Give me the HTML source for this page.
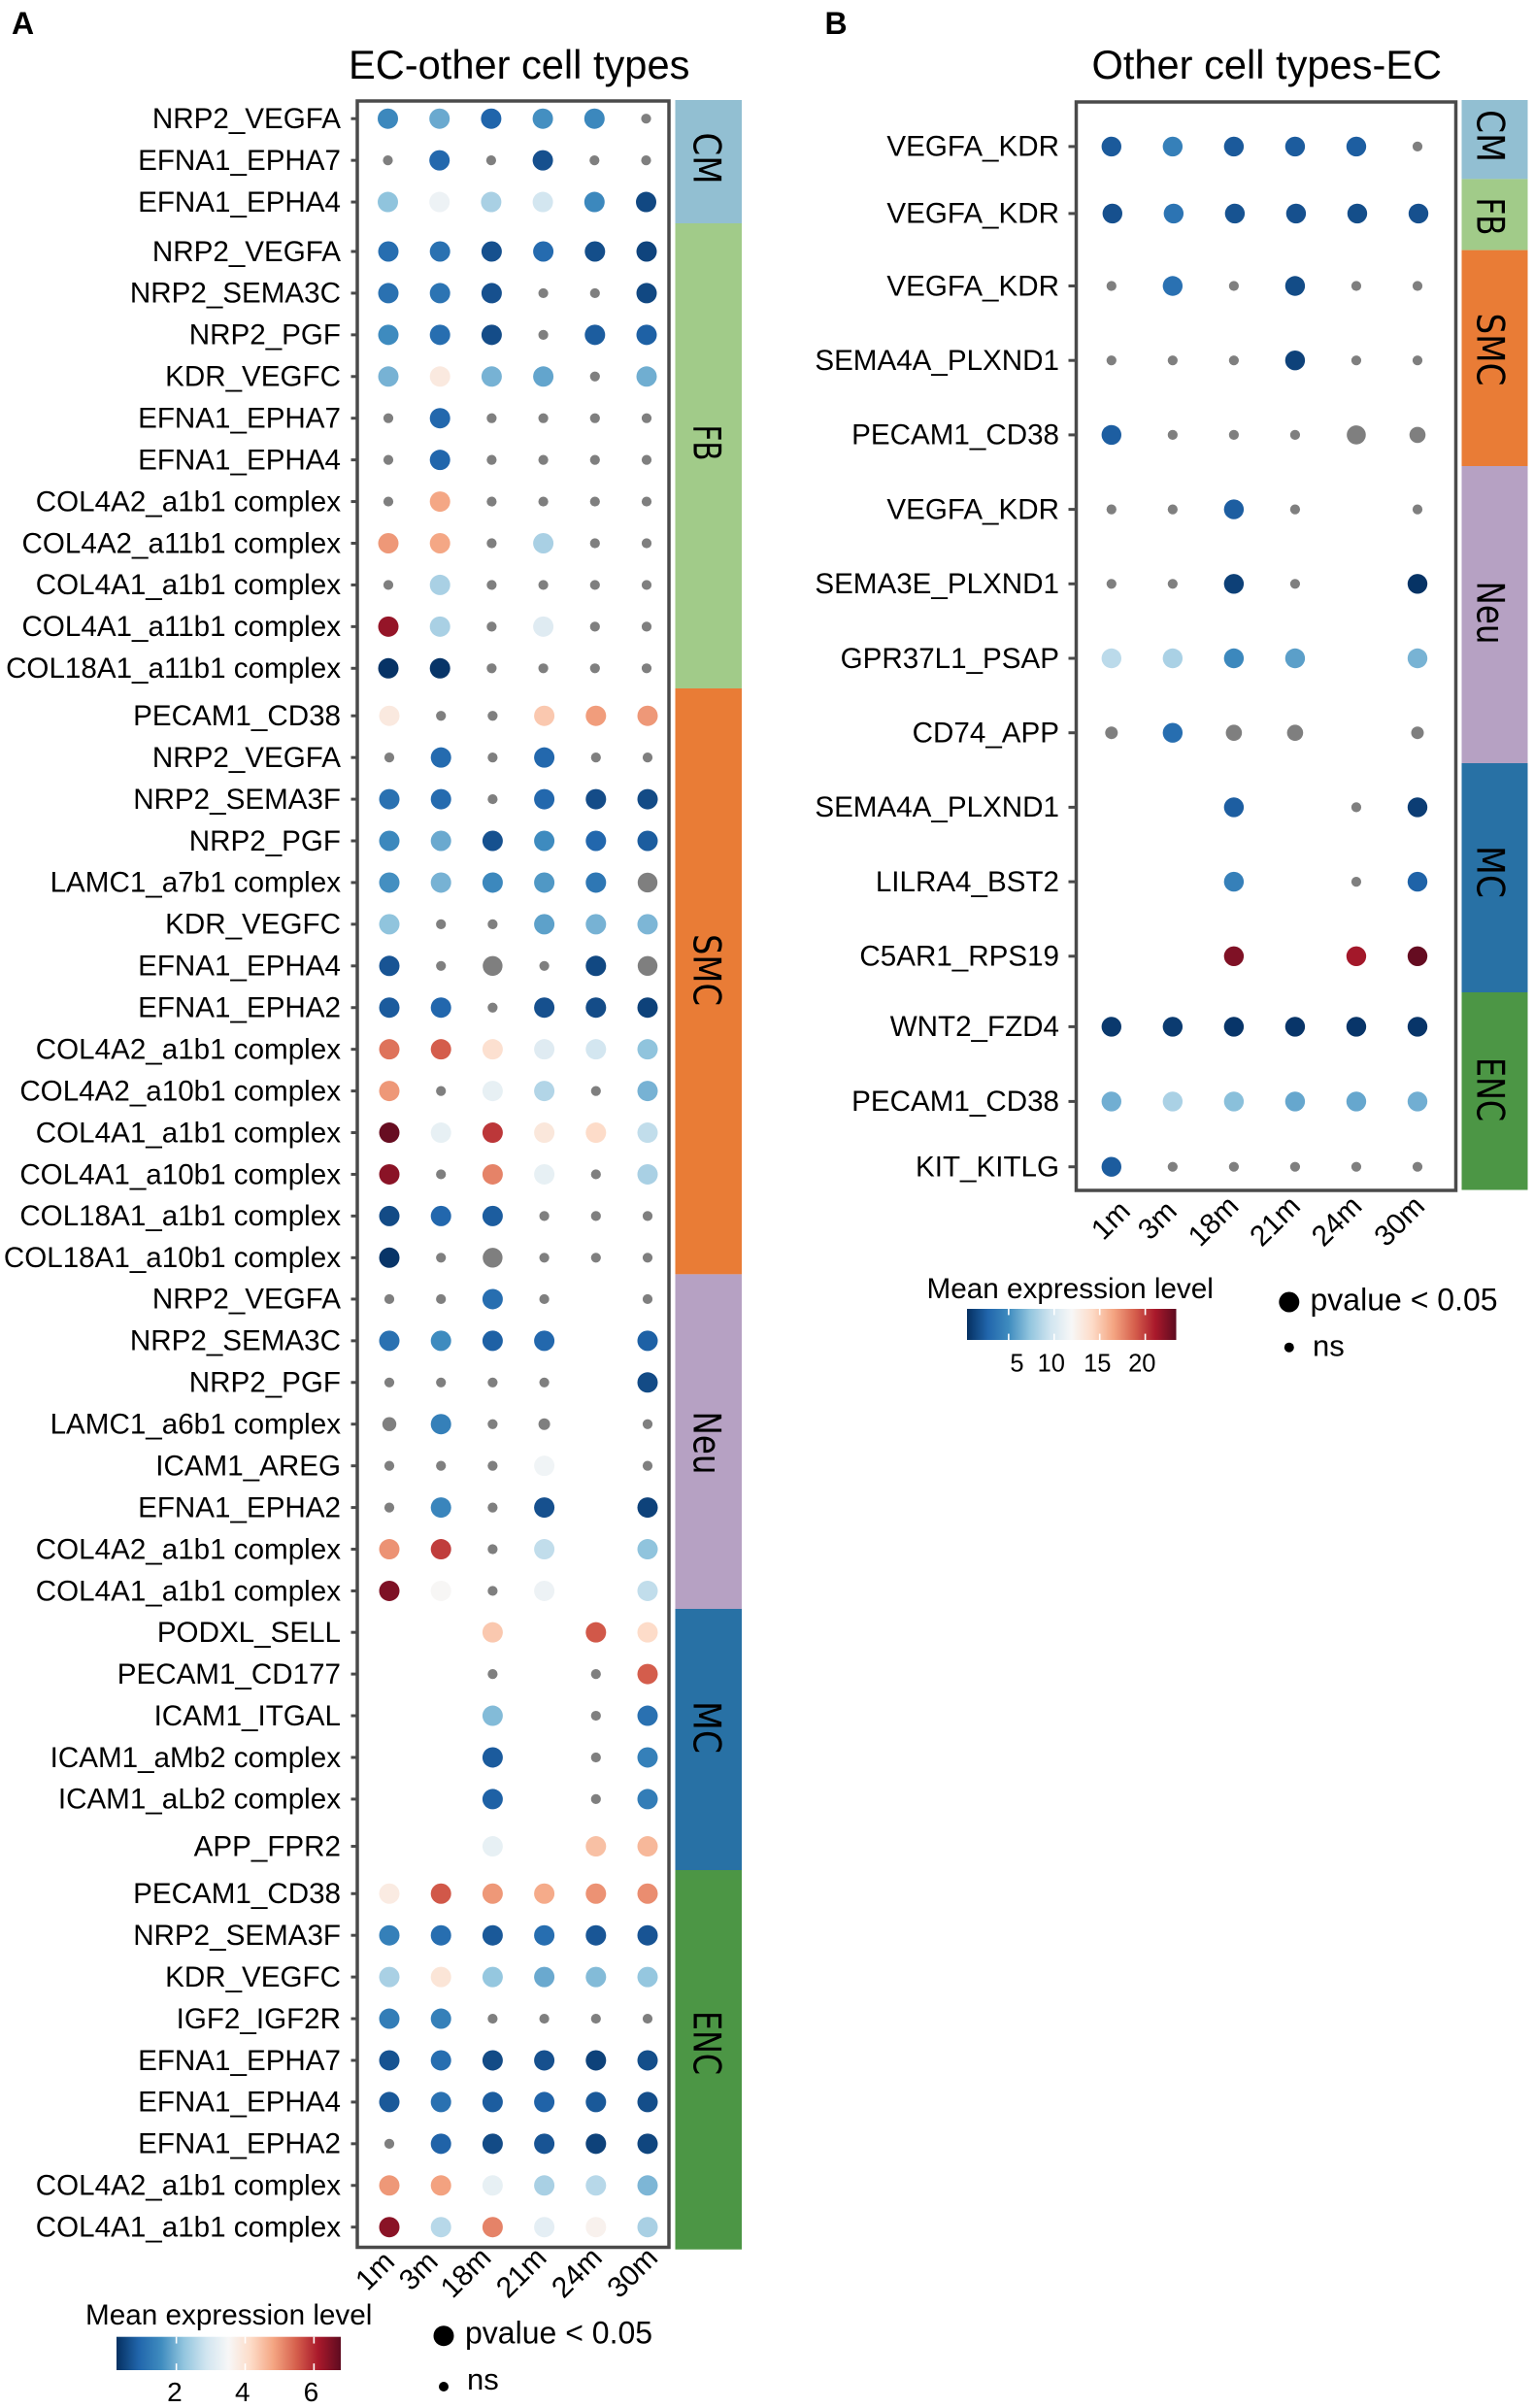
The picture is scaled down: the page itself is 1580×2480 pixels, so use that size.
<!DOCTYPE html>
<html lang="en">
<head>
<meta charset="utf-8">
<title>EC ligand-receptor dot plots</title>
<style>
html,body{margin:0;padding:0;background:#fff}
svg{display:block}
text{font-family:"Liberation Sans",sans-serif;fill:#000}
text.strip{font-family:"DejaVu Sans",sans-serif}
</style>
</head>
<body>
<svg id="fig" xmlns="http://www.w3.org/2000/svg" width="1580" height="2480" viewBox="0 0 1580 2480">
  <defs id="defs"></defs>
  <rect x="0" y="0" width="1580" height="2480" fill="#fff"/>

  <text x="12" y="35" font-size="32" font-weight="bold">A</text>
  <text x="849.5" y="35" font-size="32" font-weight="bold">B</text>
  <text x="359" y="81" font-size="41.6">EC-other cell types</text>
  <text x="1124.5" y="81" font-size="41.6">Other cell types-EC</text>

  <g>
    <rect x="695.5" y="103" width="68.5" height="127" fill="#92bfd2"/>
    <rect x="695.5" y="230" width="68.5" height="479" fill="#a1cb89"/>
    <rect x="695.5" y="709" width="68.5" height="603.4" fill="#e97c36"/>
    <rect x="695.5" y="1312.4" width="68.5" height="344.6" fill="#b6a1c3"/>
    <rect x="695.5" y="1657" width="68.5" height="269" fill="#2871a5"/>
    <rect x="695.5" y="1926" width="68.5" height="390.7" fill="#4c9645"/>
    <text class="strip" transform="translate(714.5,163) rotate(90)" text-anchor="middle" font-size="39" textLength="53" lengthAdjust="spacingAndGlyphs">CM</text>
    <text class="strip" transform="translate(714.5,456) rotate(90)" text-anchor="middle" font-size="39" textLength="37" lengthAdjust="spacingAndGlyphs">FB</text>
    <text class="strip" transform="translate(714.5,999) rotate(90)" text-anchor="middle" font-size="39" textLength="74" lengthAdjust="spacingAndGlyphs">SMC</text>
    <text class="strip" transform="translate(714.5,1486) rotate(90)" text-anchor="middle" font-size="39" textLength="65" lengthAdjust="spacingAndGlyphs">Neu</text>
    <text class="strip" transform="translate(714.5,1779) rotate(90)" text-anchor="middle" font-size="39" textLength="54" lengthAdjust="spacingAndGlyphs">MC</text>
    <text class="strip" transform="translate(714.5,2104) rotate(90)" text-anchor="middle" font-size="39" textLength="66" lengthAdjust="spacingAndGlyphs">ENC</text>
  </g>

  <g>
    <rect x="1505.5" y="103" width="68" height="81.4" fill="#92bfd2"/>
    <rect x="1505.5" y="184.4" width="68" height="73.2" fill="#a1cb89"/>
    <rect x="1505.5" y="257.6" width="68" height="222.4" fill="#e97c36"/>
    <rect x="1505.5" y="480" width="68" height="306" fill="#b6a1c3"/>
    <rect x="1505.5" y="786" width="68" height="236" fill="#2871a5"/>
    <rect x="1505.5" y="1022" width="68" height="203.5" fill="#4c9645"/>
    <text class="strip" transform="translate(1521.5,140) rotate(90)" text-anchor="middle" font-size="39" textLength="54" lengthAdjust="spacingAndGlyphs">CM</text>
    <text class="strip" transform="translate(1521.5,223) rotate(90)" text-anchor="middle" font-size="39" textLength="39" lengthAdjust="spacingAndGlyphs">FB</text>
    <text class="strip" transform="translate(1521.5,360) rotate(90)" text-anchor="middle" font-size="39" textLength="75" lengthAdjust="spacingAndGlyphs">SMC</text>
    <text class="strip" transform="translate(1521.5,631) rotate(90)" text-anchor="middle" font-size="39" textLength="65" lengthAdjust="spacingAndGlyphs">Neu</text>
    <text class="strip" transform="translate(1521.5,898) rotate(90)" text-anchor="middle" font-size="39" textLength="54" lengthAdjust="spacingAndGlyphs">MC</text>
    <text class="strip" transform="translate(1521.5,1122) rotate(90)" text-anchor="middle" font-size="39" textLength="66" lengthAdjust="spacingAndGlyphs">ENC</text>
  </g>

  <g>
    <text x="88" y="2394" font-size="29.7">Mean expression level</text>
    <circle cx="457" cy="2405.7" r="10.5" fill="#000"/>
    <text x="479" y="2413.5" font-size="32">pvalue &lt; 0.05</text>
    <circle cx="457" cy="2458" r="5" fill="#000"/>
    <text x="481" y="2461" font-size="31">ns</text>
  </g>
  <g>
    <text x="954.5" y="1337" font-size="29.7">Mean expression level</text>
    <circle cx="1327.8" cy="1341" r="10.5" fill="#000"/>
    <text x="1349.5" y="1349.5" font-size="32">pvalue &lt; 0.05</text>
    <circle cx="1327.8" cy="1387.7" r="5" fill="#000"/>
    <text x="1352" y="1396.7" font-size="31">ns</text>
  </g>

  <g id="panelA"></g>
  <g id="panelB"></g>
  <g id="barA"></g>
  <g id="barB"></g>
</svg>

<script>
// Non-significant dot classes and absent cells
const s = 'ns-small', k = 'ns-compact', m = 'ns-medium', l = 'ns-large', _ = null;

const timepoints = ['1m', '3m', '18m', '21m', '24m', '30m'];

// ---- Panel A: EC-other cell types ----
const rowLabelsA = [
  'NRP2_VEGFA','EFNA1_EPHA7','EFNA1_EPHA4',
  'NRP2_VEGFA','NRP2_SEMA3C','NRP2_PGF','KDR_VEGFC','EFNA1_EPHA7','EFNA1_EPHA4','COL4A2_a1b1 complex','COL4A2_a11b1 complex','COL4A1_a1b1 complex','COL4A1_a11b1 complex','COL18A1_a11b1 complex',
  'PECAM1_CD38','NRP2_VEGFA','NRP2_SEMA3F','NRP2_PGF','LAMC1_a7b1 complex','KDR_VEGFC','EFNA1_EPHA4','EFNA1_EPHA2','COL4A2_a1b1 complex','COL4A2_a10b1 complex','COL4A1_a1b1 complex','COL4A1_a10b1 complex','COL18A1_a1b1 complex','COL18A1_a10b1 complex',
  'NRP2_VEGFA','NRP2_SEMA3C','NRP2_PGF','LAMC1_a6b1 complex','ICAM1_AREG','EFNA1_EPHA2','COL4A2_a1b1 complex','COL4A1_a1b1 complex',
  'PODXL_SELL','PECAM1_CD177','ICAM1_ITGAL','ICAM1_aMb2 complex','ICAM1_aLb2 complex','APP_FPR2',
  'PECAM1_CD38','NRP2_SEMA3F','KDR_VEGFC','IGF2_IGF2R','EFNA1_EPHA7','EFNA1_EPHA4','EFNA1_EPHA2','COL4A2_a1b1 complex','COL4A1_a1b1 complex'
];
const valuesA = [
  [1.5,1.9,0.9,1.6,1.5,s],
  [s,0.95,s,0.65,s,s],
  [2.2,3.35,2.45,2.9,1.5,0.55],

  [1.05,1.1,0.65,1.0,0.62,0.5],
  [1.1,1.15,0.65,s,s,0.55],
  [1.55,1.05,0.6,s,0.8,0.85],
  [2.0,3.85,2.0,1.85,s,1.95],
  [s,0.95,s,s,s,s],
  [s,0.92,s,s,s,s],
  [s,4.8,s,s,s,s],
  [4.95,4.8,s,2.45,s,s],
  [s,2.45,s,s,s,s],
  [6.3,2.45,s,3.1,s,s],
  [0.3,0.32,s,s,s,s],

  [3.85,s,s,4.4,4.9,4.95],
  [s,1.0,s,0.95,s,s],
  [1.1,1.0,s,0.95,0.6,0.58],
  [1.5,1.9,0.66,1.55,0.93,0.8],
  [1.6,2.0,1.5,1.7,1.2,l],
  [2.2,s,s,1.8,2.0,2.05],
  [0.7,s,l,s,0.55,l],
  [0.78,0.93,s,0.65,0.6,0.48],
  [5.3,5.5,4.05,3.1,2.9,2.2],
  [4.95,s,3.25,2.55,s,2.0],
  [6.7,3.25,5.85,3.9,4.15,2.7],
  [6.4,s,5.15,3.25,s,2.45],
  [0.58,0.93,0.8,s,s,s],
  [0.32,s,l,s,s,s],

  [s,s,1.05,s,_,s],
  [1.1,1.55,0.85,0.95,_,0.85],
  [s,s,s,s,_,0.58],
  [m,1.35,s,k,_,s],
  [s,s,s,3.4,_,s],
  [s,1.45,s,0.65,_,0.48],
  [5.0,5.8,s,2.7,_,2.2],
  [6.5,3.55,s,3.35,_,2.7],

  [_,_,4.4,_,5.55,4.15],
  [_,_,s,_,s,5.5],
  [_,_,2.1,_,s,1.1],
  [_,_,0.78,_,s,1.35],
  [_,_,0.85,_,s,1.3],
  [_,_,3.25,_,4.5,4.6],

  [3.8,5.55,4.95,4.75,5.0,5.05],
  [1.35,1.05,0.75,1.05,0.72,0.7],
  [2.45,3.95,2.25,1.9,2.1,2.25],
  [1.3,1.35,s,s,s,s],
  [0.68,1.05,0.58,0.65,0.48,0.62],
  [0.75,1.1,0.8,0.88,0.75,0.62],
  [s,0.88,0.58,0.7,0.48,0.52],
  [4.95,4.85,3.25,2.45,2.6,2.05],
  [6.4,2.6,5.15,3.2,3.65,2.45]
];
const colorTicksA = [2, 4, 6];
const colorDomainA = [0.26, 6.78];

// ---- Panel B: Other cell types-EC ----
const rowLabelsB = [
  'VEGFA_KDR','VEGFA_KDR','VEGFA_KDR','SEMA4A_PLXND1','PECAM1_CD38','VEGFA_KDR','SEMA3E_PLXND1','GPR37L1_PSAP','CD74_APP','SEMA4A_PLXND1','LILRA4_BST2','C5AR1_RPS19','WNT2_FZD4','PECAM1_CD38','KIT_KITLG'
];
const valuesB = [
  [2.2,4.3,2.2,2.3,2.4,s],
  [1.8,3.6,1.9,1.8,1.7,1.8],
  [s,3.4,s,1.6,s,s],
  [s,s,s,1.2,s,s],
  [2.4,s,s,s,l,m],
  [s,s,2.4,s,_,s],
  [s,s,1.1,s,_,0.55],
  [8.8,8.2,4.8,5.8,_,6.6],
  [k,3.2,m,m,_,k],
  [_,_,2.4,_,s,1.0],
  [_,_,4.3,_,s,2.6],
  [_,_,22.4,_,21.3,23.2],
  [0.8,0.9,0.66,0.66,0.66,0.66],
  [6.4,8.2,7.1,6.1,6.1,6.4],
  [2.3,s,s,s,s,s]
];
const colorTicksB = [5, 10, 15, 20];
const colorDomainB = [0.43, 23.4];

// RdBu (reversed) palette stops, slightly muted like the print colours
const palette = ['#053061','#2166ac','#3f8cbf','#92c5de','#d1e5f0','#f7f7f7','#fddbc7','#f4a582','#d6604d','#a9192b','#5e0b20'];

const NS = 'http://www.w3.org/2000/svg';
function mk(parent, tag, attrs, text) {
  const el = document.createElementNS(NS, tag);
  for (const a in attrs) el.setAttribute(a, attrs[a]);
  if (text !== undefined) el.textContent = text;
  parent.appendChild(el);
  return el;
}
function hex(c) { return [1, 3, 5].map(i => parseInt(c.substr(i, 2), 16)); }
function colorScale(domain) {
  return function (v) {
    const t = Math.max(0, Math.min(1, (v - domain[0]) / (domain[1] - domain[0]))) * (palette.length - 1);
    const i = Math.min(palette.length - 2, Math.floor(t));
    const f = t - i, a = hex(palette[i]), b = hex(palette[i + 1]);
    return 'rgb(' + a.map((x, n) => Math.round(x + (b[n] - x) * f)).join(',') + ')';
  };
}
// y axis: fixed row step plus the extra spacing between collaged groups
function yA(i) {
  let y = 122.2 + 42.93 * i;
  if (i >= 3) y += 8;
  if (i >= 14) y += 6;
  if (i >= 28) y -= 0.3;
  if (i >= 36) y -= 0.2;
  if (i >= 41) y += 5.7;
  if (i >= 42) y += 5.8;
  return y;
}
function xA(c, i) { return 399.5 + 53.2 * c + (i < 3 ? 0 : i < 14 ? 0.5 : 1.5); }
function yB(i) {
  let y = 150.9 + 76.7 * i;
  if (i >= 1) y -= 7.7;
  if (i >= 2) y -= 2.1;
  if (i >= 12) y -= 4.1;
  if (i >= 13) y += 0.3;
  if (i >= 14) y -= 9.4;
  return y;
}
function xB(c, i) { return 1144.8 + 63.04 * c + (i === 1 ? 1 : 0); }

function radius(v, sigR, rs) {
  if (typeof v === 'number') return sigR;
  return rs[v];
}

function drawPanel(cfg) {
  const g = document.getElementById(cfg.id);
  const color = colorScale(cfg.domain);

  cfg.labels.forEach(function (label, i) {
    const y = cfg.y(i);
    const tick = mk(g, 'line', {x1: cfg.tickX, x2: cfg.box[0], y1: y, y2: y, stroke: '#4a4a4a', 'stroke-width': 3});
    
    
    const t = mk(g, 'text', {x: cfg.labelX, y: y + 9.8, 'text-anchor': 'end', 'font-size': 29.6}, label);
    
    
    cfg.values[i].forEach(function (v, c) {
      if (v === null) return;
      const sig = typeof v === 'number';
      const dot = mk(g, 'circle', {cx: cfg.x(c, i), cy: y, r: radius(v, cfg.sigR, cfg.nsR), fill: sig ? color(v) : '#7f7f7f'});
      
      
    });
  });

  const frame = mk(g, 'rect', {x: cfg.box[0], y: cfg.box[1], width: cfg.box[2] - cfg.box[0], height: cfg.box[3] - cfg.box[1], fill: 'none', stroke: '#4a4a4a', 'stroke-width': 3.5});
  
  

  timepoints.forEach(function (name, c) {
    const px = cfg.x(c, cfg.labels.length - 1) + cfg.xNudge[c];
    const py = cfg.xLabelY + cfg.yNudge[c];
    const t = mk(g, 'text', {transform: 'translate(' + px + ',' + py + ') rotate(-45)', 'text-anchor': 'end', 'font-size': 30}, name);
    
    
  });
}

function drawBar(cfg) {
  const g = document.getElementById(cfg.id);
  const defs = document.getElementById('defs');
  const grad = mk(defs, 'linearGradient', {id: cfg.id + 'Grad', x1: 0, x2: 1, y1: 0, y2: 0});
  palette.forEach(function (col, i) {
    mk(grad, 'stop', {offset: i / (palette.length - 1), 'stop-color': col});
  });
  const bar = mk(g, 'rect', {x: cfg.x0, y: cfg.y0, width: cfg.x1 - cfg.x0, height: cfg.y1 - cfg.y0, fill: 'url(#' + cfg.id + 'Grad)'});
  
  
  const sx = v => cfg.x0 + (v - cfg.domain[0]) / (cfg.domain[1] - cfg.domain[0]) * (cfg.x1 - cfg.x0);
  const tk = (cfg.y1 - cfg.y0) * 0.2;
  cfg.ticks.forEach(function (v, i) {
    const px = sx(v);
    const top = mk(g, 'line', {x1: px, x2: px, y1: cfg.y0, y2: cfg.y0 + tk, stroke: '#fff', 'stroke-width': 1.6});
    
    
    const bot = mk(g, 'line', {x1: px, x2: px, y1: cfg.y1 - tk, y2: cfg.y1, stroke: '#fff', 'stroke-width': 1.6});
    
    
    const t = mk(g, 'text', {x: px + cfg.labelNudge[i], y: cfg.labelY, 'text-anchor': 'middle', 'font-size': cfg.fontSize}, String(v));
    
    
  });
}

drawPanel({
  id: 'panelA', labels: rowLabelsA, values: valuesA, domain: colorDomainA,
  box: [368, 104, 689, 2314.5], tickX: 361.5, labelX: 351, x: xA, y: yA,
  sigR: 10.5, nsR: {'ns-small': 5.1, 'ns-compact': 6, 'ns-medium': 7.2, 'ns-large': 10.2},
  xNudge: [7, -1.5, 0, 4, 8, 12], yNudge: [4, 4, 0, 0, 0, 0], xLabelY: 2327
});
drawPanel({
  id: 'panelB', labels: rowLabelsB, values: valuesB, domain: colorDomainB,
  box: [1108.5, 105, 1499.5, 1226], tickX: 1100.5, labelX: 1091, x: xB, y: yB,
  sigR: 10.2, nsR: {'ns-small': 5.1, 'ns-compact': 6.5, 'ns-medium': 8.3, 'ns-large': 9.8},
  xNudge: [21, 6, 6.5, 7, 7.5, 9], yNudge: [5, 5, 0, 0, 0, 0], xLabelY: 1244
});
drawBar({id: 'barA', x0: 120, x1: 351, y0: 2406.7, y1: 2441, domain: colorDomainA, ticks: colorTicksA, labelNudge: [-1.7, -2.7, -3], labelY: 2473, fontSize: 28});
drawBar({id: 'barB', x0: 996, x1: 1211.5, y0: 1348, y1: 1380, domain: colorDomainB, ticks: colorTicksB, labelNudge: [8.6, -3, -2.4, -3.3], labelY: 1412.5, fontSize: 25.5});
</script>
</body>
</html>
